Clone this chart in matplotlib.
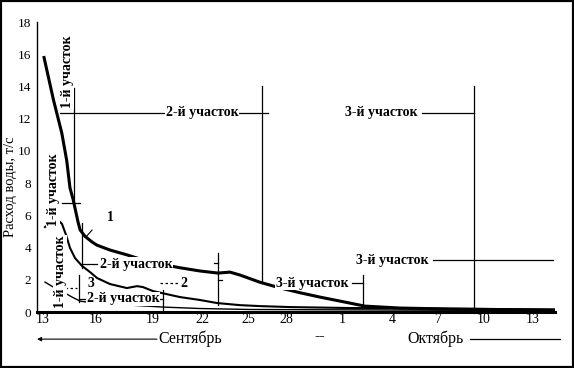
import matplotlib
matplotlib.use("Agg")
import matplotlib.pyplot as plt
from matplotlib.patches import Rectangle

plt.rcParams["font.family"] = ["Liberation Serif", "DejaVu Serif"]

# time axis: days counted from 13 September (tick spacing as drawn in the source)
tick_pos = [0, 3.25, 6.74, 9.74, 12.55, 14.88, 18.3, 21.37, 24.19, 27.0, 30.0]
tick_lab = ["13", "16", "19", "22", "25", "28", "1", "4", "7", "10", "13"]
y_ticks = [0, 2, 4, 6, 8, 10, 12, 14, 16, 18]

# curve 1
day1 = [0.06, 0.63, 1.15, 1.45, 1.65, 1.84, 2.14, 2.27, 2.57, 3.0, 3.31, 4.1, 5.14,
        6.55, 8.39, 9.61, 10.72, 11.45, 12.06, 13.29, 14.51, 15.74, 16.96, 18.49,
        19.71, 21.85, 24.92, 31.35]
q1 = [15.8, 13.2, 11.1, 9.4, 7.7, 7.0, 5.6, 5.1, 4.7, 4.35, 4.15, 3.85, 3.55,
      3.1, 2.75, 2.55, 2.42, 2.48, 2.3, 1.85, 1.5, 1.2, 0.93, 0.62,
      0.37, 0.25, 0.19, 0.12]
# curve 2
day2 = [0.12, 0.55, 0.92, 1.16, 1.41, 1.65, 1.96, 2.39, 2.88, 3.31, 4.1, 5.14, 5.76,
        6.12, 6.74, 8.39, 9.61, 10.66, 12.06, 13.29, 15.13, 18.8, 31.35]
q2 = [5.28, 5.59, 5.71, 5.47, 4.78, 3.98, 3.35, 2.86, 2.48, 2.11, 1.74, 1.49, 1.61,
      1.55, 1.3, 0.93, 0.75, 0.56, 0.43, 0.37, 0.31, 0.25, 0.16]
# curve 3
day3 = [0.12, 0.73, 1.35, 1.78, 2.27, 2.88, 4.1, 5.33, 7.35, 9.61, 12.68, 31.35]
q3 = [1.86, 1.49, 1.18, 0.93, 0.68, 0.59, 0.5, 0.43, 0.31, 0.22, 0.16, 0.09]

fig = plt.figure(figsize=(5.74, 3.68), dpi=100)
ax = fig.add_axes([0.0645, 0.152, 0.902, 0.788])

ax.plot(day1, q1, color="black", lw=2.2, zorder=2)
ax.plot(day2, q2, color="black", lw=1.5, zorder=2)
ax.plot(day3, q3, color="black", lw=1.0, zorder=2)

ax.set_xlim(-0.37, 31.35)
ax.set_ylim(0, 18)
ax.set_xticks(tick_pos)
ax.set_xticklabels(tick_lab, fontsize=10)
ax.set_yticks(y_ticks)
ax.set_yticklabels([str(t) for t in y_ticks], fontsize=9.5)
ax.tick_params(length=0)
ax.tick_params(axis="x", pad=1)
ax.tick_params(axis="y", pad=4)
for s in ("top", "right"):
    ax.spines[s].set_visible(False)
ax.spines["bottom"].set_linewidth(2.2)
ax.spines["left"].set_linewidth(1.0)


def vline(d, v0, v1):
    ax.plot([d, d], [v0, v1], color="black", lw=0.9, zorder=3, clip_on=False)


def hline(v, d0, d1, **kw):
    ax.plot([d0, d1], [v, v], color="black", lw=0.9, zorder=3, clip_on=False, **kw)


lab = dict(fontsize=10, fontweight="bold", ha="center", va="center", zorder=4,
           bbox=dict(facecolor="white", edgecolor="none", pad=0.3))
rot = dict(lab, rotation=90)

# curve 1 sections
vline(1.9, 6.65, 13.9)
hline(6.8, 1.16, 2.27)
vline(13.41, 1.8, 14.04)
vline(26.39, 0, 14.04)
hline(12.36, 1.04, 13.78)
ax.text(9.74, 12.36, "2-й участок", **lab)
ax.text(1.47, 14.9, "1-й участок", **rot)
hline(12.36, 23.21, 26.39)
ax.text(20.7, 12.36, "3-й участок", **lab)
ax.text(4.1, 5.84, "1", **lab)
ax.plot([2.63, 3.0], [4.66, 5.09], color="black", lw=0.8, zorder=3)

# curve 2 sections
vline(2.39, 2.73, 5.53)
hline(2.98, 2.39, 3.31)
ax.text(5.7, 2.98, "2-й участок", **lab)
ax.text(0.61, 7.58, "1-й участок", **rot)
hline(1.8, 7.16, 8.27, ls=(0, (2, 2)))
ax.text(8.62, 1.8, "2", **lab)
vline(10.72, 0.43, 3.66)
hline(3.04, 10.45, 10.72)
hline(1.99, 10.72, 10.98)
ax.text(16.47, 1.8, "3-й участок", **lab)
hline(1.8, 18.92, 19.6)
vline(19.6, 0.43, 2.3)

# curve 3 sections
vline(2.2, 0.62, 2.3)
hline(1.5, 1.35, 2.08, ls=(0, (2, 2)))
ax.text(2.95, 1.75, "3", **lab)
ax.text(1.04, 2.48, "1-й участок", **rot)
hline(0.82, 2.2, 7.35)
ax.text(4.9, 0.82, "2-й участок", **lab)
vline(7.35, 0, 1.37)
hline(3.23, 23.88, 31.23)
ax.text(21.37, 3.23, "3-й участок", **lab)

# months under the axis
mon = dict(fontsize=11.5, ha="center", va="center")
ax.text(9.0, -1.68, "Сентябрь", **mon)
ax.annotate("", xy=(-0.37, -1.68), xytext=(6.98, -1.68), annotation_clip=False,
            arrowprops=dict(arrowstyle="-|>", lw=0.8, color="black", mutation_scale=6,
                            shrinkA=0, shrinkB=0))
ax.text(16.96, -1.49, "--", **mon)
ax.text(24.07, -1.68, "Октябрь", **mon)
hline(-1.68, 26.15, 31.66)

fig.text(11 / 574, 1 - 187 / 368, "Расход воды, т/с", rotation=90, fontsize=10.5,
         ha="center", va="center")

fig.patches.append(Rectangle((0, 0), 1, 1, transform=fig.transFigure, fill=False,
                             lw=3, edgecolor="black"))

fig.savefig("out.png", dpi=100)
